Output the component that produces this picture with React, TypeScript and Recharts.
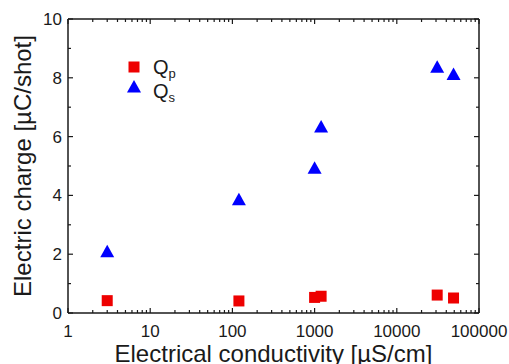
import React from 'react';
import { ScatterChart, Scatter, XAxis, YAxis, Legend } from 'recharts';

const conductivity = [3, 120, 1000, 1200, 31000, 49000];
const qpValues = [0.42, 0.41, 0.53, 0.57, 0.61, 0.51];
const qsValues = [2.1, 3.87, 4.94, 6.34, 8.38, 8.13];

const xMajorTicks = [1, 10, 100, 1000, 10000, 100000];
const xMinorMultipliers = [2, 3, 4, 5, 6, 7, 8, 9];
const yMajorTicks = [0, 2, 4, 6, 8, 10];
const yMinorTicks = [1, 3, 5, 7, 9];

const xAllTicks = [
  ...xMajorTicks,
  ...xMajorTicks.slice(0, 5).flatMap((d) => xMinorMultipliers.map((m) => d * m)),
].sort((a, b) => a - b);
const yAllTicks = [...yMajorTicks, ...yMinorTicks].sort((a, b) => a - b);

const qpData = conductivity.map((x, i) => ({ x, y: qpValues[i] }));
const qsData = conductivity.map((x, i) => ({ x, y: qsValues[i] }));

const FONT = '"Liberation Sans", Arial, Helvetica, sans-serif';
const AXIS = '#1a1a1a';
const RED = '#ee0000';
const BLUE = '#0000ff';
const MAJOR = 5;
const MINOR = 3;

const isMajorX = (v: number) => xMajorTicks.includes(v);
const isMajorY = (v: number) => yMajorTicks.includes(v);

const BottomTick = (props: any) => {
  const { x, y, payload } = props;
  const v = payload.value;
  const major = isMajorX(v);
  return (
    <g>
      <line x1={x} x2={x} y1={y} y2={y - (major ? MAJOR : MINOR)} stroke={AXIS} strokeWidth={1.2} />
      {major && (
        <text x={x} y={y + 24} textAnchor="middle" fill={AXIS} fontSize={17} fontFamily={FONT}>
          {v}
        </text>
      )}
    </g>
  );
};

const TopTick = (props: any) => {
  const { x, y, payload } = props;
  const major = isMajorX(payload.value);
  return <line x1={x} x2={x} y1={y} y2={y + (major ? MAJOR : MINOR)} stroke={AXIS} strokeWidth={1.2} />;
};

const LeftTick = (props: any) => {
  const { x, y, payload } = props;
  const v = payload.value;
  const major = isMajorY(v);
  return (
    <g>
      <line x1={x} x2={x + (major ? MAJOR : MINOR)} y1={y} y2={y} stroke={AXIS} strokeWidth={1.2} />
      {major && (
        <text x={x - 6} y={y + 6} textAnchor="end" fill={AXIS} fontSize={17} fontFamily={FONT}>
          {v}
        </text>
      )}
    </g>
  );
};

const RightTick = (props: any) => {
  const { x, y, payload } = props;
  const major = isMajorY(payload.value);
  return <line x1={x} x2={x - (major ? MAJOR : MINOR)} y1={y} y2={y} stroke={AXIS} strokeWidth={1.2} />;
};

const SquareShape = (props: any) => {
  const { cx, cy } = props;
  return <rect x={cx - 5.5} y={cy - 5.5} width={11} height={11} fill={RED} />;
};

const TriangleShape = (props: any) => {
  const { cx, cy } = props;
  return <polygon points={`${cx},${cy - 6.5} ${cx - 7},${cy + 6} ${cx + 7},${cy + 6}`} fill={BLUE} />;
};

const LegendContent = () => (
  <svg width={90} height={50} style={{ display: 'block', overflow: 'visible' }}>
    <rect x={8.5} y={6.5} width={11} height={11} fill={RED} />
    <polygon points={`14,25 7,37.5 21,37.5`} fill={BLUE} />
    <text x={33} y={19} fill={AXIS} fontSize={20} fontFamily={FONT}>
      Q<tspan fontSize={13} dy={4}>p</tspan>
    </text>
    <text x={33} y={43} fill={AXIS} fontSize={20} fontFamily={FONT}>
      Q<tspan fontSize={13} dy={4}>s</tspan>
    </text>
  </svg>
);

export default function App() {
  return (
    <div style={{ position: 'absolute', left: 0, top: 0, width: 509, height: 364, background: '#fff' }}>
      <ScatterChart width={509} height={364} margin={{ top: 0, right: 0, bottom: 0, left: 0 }}>
        <XAxis
          xAxisId="bottom"
          orientation="bottom"
          dataKey="x"
          type="number"
          scale="log"
          domain={[1, 100000]}
          allowDataOverflow
          ticks={xAllTicks}
          interval={0}
          height={51}
          tickSize={0}
          tickMargin={0}
          tickLine={false}
          tick={<BottomTick />}
          axisLine={{ stroke: AXIS, strokeWidth: 1.5 }}
          label={{
            value: 'Electrical conductivity [µS/cm]',
            position: 'insideBottom',
            offset: 2,
            fill: AXIS,
            fontSize: 24,
            fontFamily: FONT,
          }}
        />
        <XAxis
          xAxisId="top"
          orientation="top"
          dataKey="x"
          type="number"
          scale="log"
          domain={[1, 100000]}
          allowDataOverflow
          ticks={xAllTicks}
          interval={0}
          height={19}
          tickSize={0}
          tickMargin={0}
          tickLine={false}
          tick={<TopTick />}
          axisLine={{ stroke: AXIS, strokeWidth: 1.5 }}
        />
        <YAxis
          yAxisId="left"
          orientation="left"
          dataKey="y"
          type="number"
          domain={[0, 10]}
          allowDataOverflow
          ticks={yAllTicks}
          interval={0}
          width={68}
          tickSize={0}
          tickMargin={0}
          tickLine={false}
          tick={<LeftTick />}
          axisLine={{ stroke: AXIS, strokeWidth: 1.5 }}
          label={{
            value: 'Electric charge [µC/shot]',
            position: 'insideLeft',
            angle: -90,
            offset: 22,
            fill: AXIS,
            fontSize: 24,
            fontFamily: FONT,
            style: { textAnchor: 'middle' },
          }}
        />
        <YAxis
          yAxisId="right"
          orientation="right"
          dataKey="y"
          type="number"
          domain={[0, 10]}
          allowDataOverflow
          ticks={yAllTicks}
          interval={0}
          width={30}
          tickSize={0}
          tickMargin={0}
          tickLine={false}
          tick={<RightTick />}
          axisLine={{ stroke: AXIS, strokeWidth: 1.5 }}
        />
        <Legend
          layout="vertical"
          align="center"
          verticalAlign="middle"
          wrapperStyle={{ left: 120, top: 55, width: 90, height: 50 }}
          content={<LegendContent />}
        />
        <Scatter
          name="Qp"
          data={qpData}
          xAxisId="bottom"
          yAxisId="left"
          shape={<SquareShape />}
          isAnimationActive={false}
        />
        <Scatter
          name="Qs"
          data={qsData}
          xAxisId="bottom"
          yAxisId="left"
          shape={<TriangleShape />}
          isAnimationActive={false}
        />
      </ScatterChart>
    </div>
  );
}
